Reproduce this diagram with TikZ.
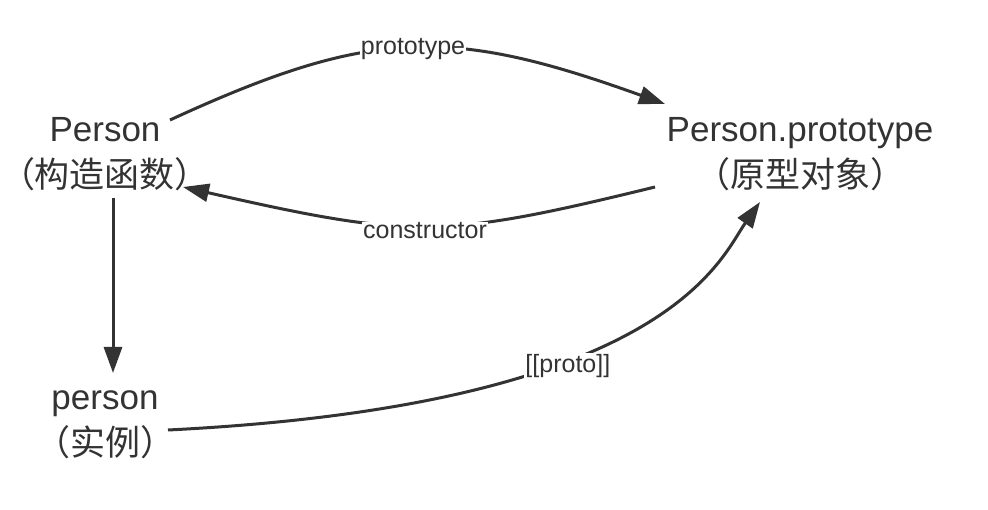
\documentclass[tikz,border=0pt]{standalone}
\usepackage{fontspec}
\setmainfont{Liberation Sans}
\newfontfamily\cjk{Noto Sans CJK SC}
\usetikzlibrary{arrows.meta,calc}
\definecolor{ink}{HTML}{333333}
\begin{document}
\begin{tikzpicture}[x=1pt,y=-1pt,
  block/.style={text=ink,align=center,inner sep=0pt,
    font=\fontsize{35}{46}\selectfont},
  link/.style={draw=ink,line width=3pt,-{Triangle[length=26pt,width=18pt]}},
  tag/.style={fill=white,text=ink,inner sep=1pt,font=\fontsize{25}{30}\selectfont}]
  \fill[white] (0,0) rectangle (988,510);
  \useasboundingbox (0,0) rectangle (988,510);

  % the three objects
  \node[block] (ctor)  at (105,154.5) {Person\\{\cjk （构造函数）}};
  \node[block] (proto) at (800,154.5) {Person.prototype\\{\cjk （原型对象）}};
  \node[block] (inst)  at (105,425) {person\\{\cjk （实例）}};

  % Person -> Person.prototype
  \draw[link] ($(ctor.center)+(65,-34.5)$)
    .. controls (372,27) and (451,27) .. ($(proto.center)+(-135,-50.5)$)
    node[tag,pos=0.5,yshift=-1pt] {prototype};

  % Person.prototype -> Person
  \draw[link] ($(proto.center)+(-145,32.5)$)
    .. controls (442,239) and (412,239) .. ($(ctor.center)+(78,32.5)$)
    node[tag,pos=0.5,yshift=-5pt] {constructor};

  % Person -> person
  \draw[link] ($(ctor.center)+(8,43.5)$) -- ($(inst.center)+(8,-52)$);

  % person -> Person.prototype
  \draw[link] ($(inst.center)+(63,5)$)
    .. controls (668,405) and (720,259) .. ($(proto.center)+(-40,47.5)$)
    node[tag,pos=0.38,yshift=-5pt] {[[proto]]};
\end{tikzpicture}
\end{document}
